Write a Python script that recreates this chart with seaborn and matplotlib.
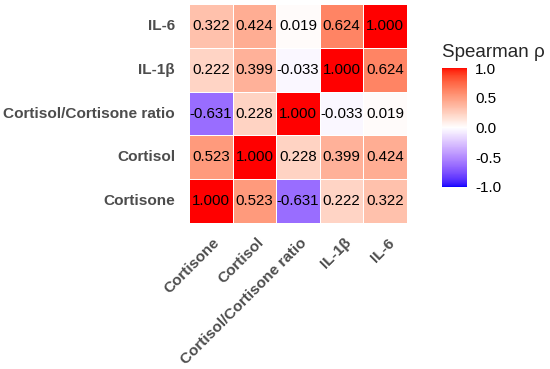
import numpy as np
import pandas as pd
import matplotlib
matplotlib.use("Agg")
import matplotlib.pyplot as plt
import matplotlib.transforms as mtrans
import seaborn as sns
from matplotlib.colors import ListedColormap

# ---- data ----
variables = ["Cortisone", "Cortisol", "Cortisol/Cortisone ratio", "IL-1β", "IL-6"]
rho_cortisone = [1.000, 0.523, -0.631, 0.222, 0.322]
rho_cortisol = [0.523, 1.000, 0.228, 0.399, 0.424]
rho_ratio = [-0.631, 0.228, 1.000, -0.033, 0.019]
rho_il1b = [0.222, 0.399, -0.033, 1.000, 0.624]
rho_il6 = [0.322, 0.424, 0.019, 0.624, 1.000]
cbar_ticks = [-1.0, -0.5, 0.0, 0.5, 1.0]

mat = pd.DataFrame([rho_cortisone, rho_cortisol, rho_ratio, rho_il1b, rho_il6],
                   index=variables, columns=variables)
mat = mat.iloc[::-1]  # IL-6 at top

# ---- Lab-interpolated blue-white-red (like ggplot scale_fill_gradient2) ----
def srgb_to_lab(rgb):
    rgb = np.asarray(rgb, float)
    lin = np.where(rgb <= 0.04045, rgb / 12.92, ((rgb + 0.055) / 1.055) ** 2.4)
    M = np.array([[0.4124, 0.3576, 0.1805], [0.2126, 0.7152, 0.0722], [0.0193, 0.1192, 0.9505]])
    xyz = M @ lin
    wp = np.array([0.95047, 1.0, 1.08883])
    t = xyz / wp
    f = np.where(t > (6/29)**3, np.cbrt(t), t / (3*(6/29)**2) + 4/29)
    return np.array([116*f[1]-16, 500*(f[0]-f[1]), 200*(f[1]-f[2])])

def lab_to_srgb(lab):
    L, a, b = lab
    fy = (L + 16) / 116
    fx = fy + a / 500
    fz = fy - b / 200
    def finv(f):
        return np.where(f > 6/29, f**3, 3*(6/29)**2*(f - 4/29))
    wp = np.array([0.95047, 1.0, 1.08883])
    xyz = wp * np.array([finv(fx), finv(fy), finv(fz)])
    Minv = np.array([[3.2406, -1.5372, -0.4986], [-0.9689, 1.8758, 0.0415], [0.0557, -0.2040, 1.0570]])
    lin = Minv @ xyz
    lin = np.clip(lin, 0, 1)
    rgb = np.where(lin <= 0.0031308, 12.92*lin, 1.055*lin**(1/2.4) - 0.055)
    return np.clip(rgb, 0, 1)

blue = srgb_to_lab([0, 0, 1]); white = srgb_to_lab([1, 1, 1]); red = srgb_to_lab([1, 0, 0])
cols = []
for t in np.linspace(-1, 1, 256):
    if t < 0:
        lab = white + (blue - white) * (-t)
    else:
        lab = white + (red - white) * t
    cols.append(lab_to_srgb(lab))
cmap = ListedColormap(cols)

# ---- plot ----
sns.set_theme(style="white")
plt.rcParams["font.family"] = ["Liberation Sans", "DejaVu Sans"]

fig = plt.figure(figsize=(5.5, 3.69), dpi=100)
ax = fig.add_axes([189/550, 1-223/369, 218/550, 219/369])
cax = fig.add_axes([442/550, 1-187/369, 25/550, 119/369])

sns.heatmap(mat, ax=ax, cbar_ax=cax, cmap=cmap, vmin=-1, vmax=1,
            annot=True, fmt=".3f", annot_kws={"fontsize": 10.8, "color": "black"},
            linewidths=0.7, linecolor="white",
            cbar_kws={"ticks": cbar_ticks})

ax.tick_params(axis="y", length=0, pad=10)
ax.tick_params(axis="x", length=0, pad=4)
ax.set_xlabel(""); ax.set_ylabel("")
ax.set_xticklabels(ax.get_xticklabels(), rotation=45, ha="right", va="top",
                   rotation_mode="anchor", fontsize=11.1, fontweight="bold", color="#4D4D4D")
off = mtrans.ScaledTranslation(2/100, -7/100, fig.dpi_scale_trans)
for lbl in ax.get_xticklabels():
    lbl.set_transform(lbl.get_transform() + off)
ax.set_yticklabels(ax.get_yticklabels(), rotation=0, fontsize=11.1,
                   fontweight="bold", color="#4D4D4D")

cax.tick_params(length=0, labelsize=11, colors="black", pad=6)
cax.set_yticklabels([f"{t:.1f}" for t in cbar_ticks])
for s in cax.spines.values():
    s.set_visible(False)
fig.text(442/550, 1-57/369, "Spearman ρ", fontsize=13.5, ha="left", va="baseline")

fig.savefig("out.png", dpi=100)
